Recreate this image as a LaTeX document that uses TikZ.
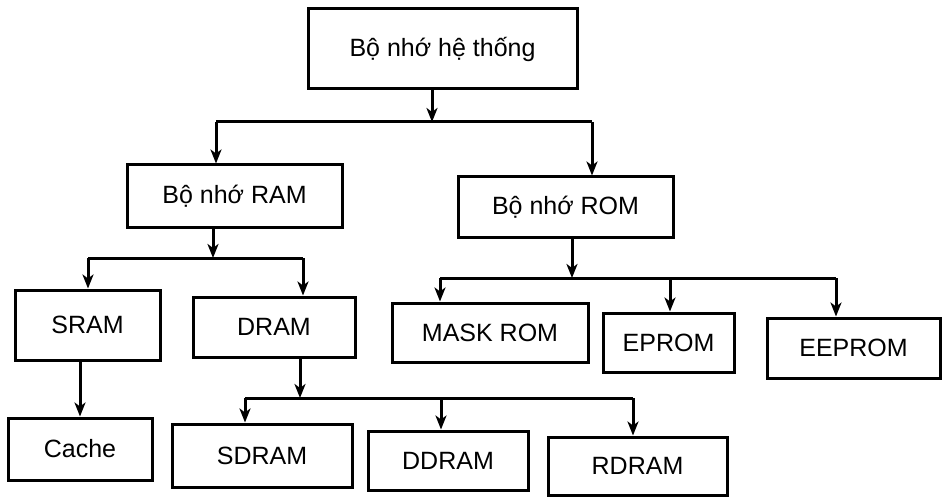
\documentclass[tikz,border=0pt]{standalone}
\usepackage{fontspec}
\setmainfont{Liberation Sans}
\usetikzlibrary{arrows.meta}
\begin{document}
\begin{tikzpicture}[x=0.5pt,y=-0.5pt,
  box/.style={draw,line width=1.5pt,inner sep=0pt,font=\fontsize{12.5}{15}\selectfont},
  arr/.style={line width=1.5pt,-{Stealth[length=7pt,width=5.5pt,inset=2pt]}},
  ln/.style={line width=1.5pt}]
\useasboundingbox (0,0) rectangle (946,497);
% boxes
\node[box,minimum width=134.5pt,minimum height=40pt] (top) at (442.5,49) {Bộ nhớ hệ thống};
\node[box,minimum width=107.5pt,minimum height=31pt] (ram) at (234.5,196) {Bộ nhớ RAM};
\node[box,minimum width=107.5pt,minimum height=30pt] (rom) at (565.5,207) {Bộ nhớ ROM};
\node[box,minimum width=72.5pt,minimum height=35pt] (sram) at (87.5,325) {SRAM};
\node[box,minimum width=81pt,minimum height=30pt] (dram) at (274,327) {DRAM};
\node[box,minimum width=98pt,minimum height=29.5pt] (mask) at (490,332.5) {MASK ROM};
\node[box,minimum width=65.5pt,minimum height=29.5pt] (eprom) at (668.5,342.5) {EPROM};
\node[box,minimum width=86.5pt,minimum height=30pt] (eeprom) at (853.5,348) {EEPROM};
\node[box,minimum width=72pt,minimum height=31pt] (cache) at (80,449) {Cache};
\node[box,minimum width=90pt,minimum height=31.5pt] (sdram) at (262,455.5) {SDRAM};
\node[box,minimum width=80pt,minimum height=29.5pt] (ddram) at (448,460.5) {DDRAM};
\node[box,minimum width=89.5pt,minimum height=29pt] (rdram) at (637.5,466) {RDRAM};
% level 1
\coordinate (j1) at (432,122);
\coordinate (b1l) at (216,122);
\coordinate (b1r) at (592,122);
\draw[arr] (top.south -| j1) -- (j1);
\draw[ln] (b1l) -- (b1r);
\draw[arr] (b1l) -- (b1l |- ram.north);
\draw[arr] (b1r) -- (b1r |- rom.north);
% RAM
\coordinate (j2) at (213,258);
\coordinate (b2l) at (88,258);
\coordinate (b2r) at (303,258);
\draw[arr] (ram.south -| j2) -- (j2);
\draw[ln] (b2l) -- (b2r);
\draw[arr] (b2l) -- (b2l |- sram.north);
\draw[arr] (b2r) -- (b2r |- dram.north);
% ROM
\coordinate (j3) at (572,278);
\coordinate (b3l) at (440,278);
\coordinate (b3m) at (670,278);
\coordinate (b3r) at (836,278);
\draw[arr] (rom.south -| j3) -- (j3);
\draw[ln] (b3l) -- (b3r);
\draw[arr] (b3l) -- (b3l |- mask.north);
\draw[arr] (b3m) -- (b3m |- eprom.north);
\draw[arr] (b3r) -- (b3r |- eeprom.north);
% SRAM -> Cache
\draw[arr] (sram.south -| cache.north) -- (cache.north);
% DRAM
\coordinate (j4) at (300,398);
\coordinate (b4l) at (245,398);
\coordinate (b4m) at (441,398);
\coordinate (b4r) at (633,398);
\draw[arr] (dram.south -| j4) -- (j4);
\draw[ln] (b4l) -- (b4r);
\draw[arr] (b4l) -- (b4l |- sdram.north);
\draw[arr] (b4m) -- (b4m |- ddram.north);
\draw[arr] (b4r) -- (b4r |- rdram.north);
\end{tikzpicture}
\end{document}
